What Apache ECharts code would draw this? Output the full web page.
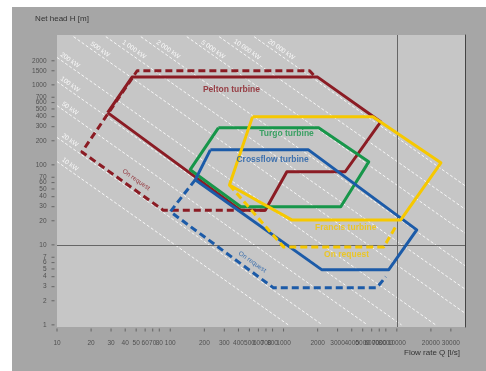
<!DOCTYPE html>
<html>
<head>
<meta charset="utf-8">
<script src="https://cdn.jsdelivr.net/npm/echarts@6/dist/echarts.min.js"></script>
<style>
html,body{margin:0;padding:0;background:#fff}
#chart{width:486px;height:371px}
</style>
</head>
<body>
<div id="chart"></div>
<script>
// tick labels (log axes)
var xTicks = [10, 20, 30, 40, 50, 60, 70, 80, 100, 200, 300, 400, 500, 600, 700, 800, 1000, 2000, 3000, 4000, 5000, 6000, 7000, 8000, 10000, 20000, 30000];
var yTicks = [1, 2, 3, 4, 5, 6, 7, 10, 20, 30, 40, 50, 60, 70, 100, 200, 300, 400, 500, 600, 700, 1000, 1500, 2000];

// application ranges [Q l/s, H m]
var pelton = [[28, 450], [46, 1250], [2000, 1250], [7200, 345], [3500, 82], [1070, 82], [690, 27], [420, 27], [28, 450]];
var peltonOnRequest = [[1840, 1330], [1700, 1500], [51, 1500], [16.6, 145], [87, 27], [690, 27]];
var turgo = [[266, 290], [2040, 290], [5650, 109], [3200, 30], [420, 30], [150, 87], [266, 290]];
var crossflow = [[226, 154], [1660, 154], [15000, 15.4], [8500, 4.9], [2170, 4.9], [166, 65], [226, 154]];
var crossflowOnRequest = [[166, 65], [100, 26], [816, 2.9], [6650, 2.9], [8000, 4]];
var francis = [[532, 398], [6140, 398], [24500, 106], [10840, 20.5], [1180, 20.5], [333, 56], [532, 398]];
var francisOnRequest = [[333, 56], [1000, 9.4], [7670, 9.4], [10000, 17.8]];

// constant power lines: name, start, end
var powerLines = [
  ['10 kW', [10, 110], [1100, 1]],
  ['20 kW', [10, 220], [2200, 1]],
  ['50 kW', [10, 550], [5500, 1]],
  ['100 kW', [10, 1100], [11000, 1]],
  ['200 kW', [10, 2200], [22000, 1]],
  ['500 kW', [14, 4000], [40000, 1.4]],
  ['1 000 kW', [27, 4000], [40000, 2.8]],
  ['2 000 kW', [55, 4000], [40000, 5.5]],
  ['5 000 kW', [140, 4000], [40000, 14]],
  ['10 000 kW', [270, 4000], [40000, 28]],
  ['20 000 kW', [550, 4000], [40000, 55]]
];
var powerLabelPos = [[12.5, 88], [12.5, 176], [12.5, 440], [12.5, 880], [12.5, 1760], [23, 2400], [46, 2400], [92, 2400], [229, 2400], [458, 2400], [917, 2400]];

var turbineLabels = [
  ['Pelton turbine', 347, 866, '#8b1c24', 0],
  ['Turgo turbine', 1063, 244, '#17964a', 0],
  ['Crossflow turbine', 800, 115, '#1c5ba8', 0],
  ['Francis turbine', 3540, 16.3, '#f3c500', 0],
  ['On request', 3600, 7.5, '#f3c500', 0],
  ['On request', 50, 65, '#8b1c24', -35],
  ['On request', 530, 6.1, '#1c5ba8', -35]
];

var RED = '#8b1c24', GREEN = '#17964a', BLUE = '#1c5ba8', YELLOW = '#f6c800';
var FONT = 'Liberation Sans Narrow, Liberation Sans, sans-serif';

var chart = echarts.init(document.getElementById('chart'));

function area(data, color, dashed) {
  return {
    type: 'line', data: data, showSymbol: false, silent: true, z: 5,
    lineStyle: {color: color, width: 3, type: dashed ? [7, 4] : 'solid', join: 'round'}
  };
}

var series = [];
powerLines.forEach(function (p) {
  series.push({
    type: 'line', data: [p[1], p[2]], showSymbol: false, silent: true, z: 2,
    lineStyle: {color: '#ffffff', width: 1, type: [3, 2], opacity: 0.85}
  });
});
series.push({
  type: 'scatter', symbolSize: 0, silent: true, z: 3,
  data: powerLabelPos.map(function (d, i) { return {value: d, name: powerLines[i][0]}; }),
  label: {show: true, position: 'top', distance: 2, rotate: -35, formatter: '{b}',
    color: '#ffffff', fontSize: 6.5, fontFamily: FONT, opacity: 0.9}
});
series.push(area(pelton, RED, false));
series.push(area(peltonOnRequest, RED, true));
series.push(area(turgo, GREEN, false));
series.push(area(crossflow, BLUE, false));
series.push(area(crossflowOnRequest, BLUE, true));
series.push(area(francis, YELLOW, false));
series.push(area(francisOnRequest, YELLOW, true));

// reference lines at H = 10 m and Q = 10 000 l/s
series.push({
  type: 'line', data: [], silent: true,
  markLine: {symbol: 'none', silent: true, label: {show: false},
    lineStyle: {color: '#666', width: 1, type: 'solid'},
    data: [{yAxis: 10}, {xAxis: 10000}]}
});

series.push({
  type: 'scatter', symbolSize: 0, silent: true, z: 10,
  data: turbineLabels.map(function (t) {
    return {value: [t[1], t[2]], name: t[0],
      label: {color: t[3], rotate: t[4], fontSize: t[4] ? 6.5 : 8.5, fontWeight: t[4] ? 'normal' : 'bold'}};
  }),
  label: {show: true, position: 'inside', formatter: '{b}', fontFamily: FONT}
});

// axis tick labels
series.push({
  type: 'scatter', symbol: 'rect', symbolSize: [3, 1], symbolOffset: [-4, 0], silent: true, clip: false,
  itemStyle: {color: '#555'},
  data: yTicks.map(function (v) { return [10, v]; }),
  label: {show: true, position: 'left', distance: 5, color: '#3a3a3a', fontSize: 6.5, fontFamily: FONT,
    formatter: function (p) { return p.value[1]; }}
});
series.push({
  type: 'scatter', symbol: 'rect', symbolSize: [1, 3], symbolOffset: [0, 3], silent: true, clip: false,
  itemStyle: {color: '#555'},
  data: xTicks.map(function (v) { return [v, 0.94]; }),
  label: {show: true, position: 'bottom', distance: 8, color: '#3a3a3a', fontSize: 6.5, fontFamily: FONT,
    formatter: function (p) { return p.value[0]; }}
});

var option = {
  animation: false,
  backgroundColor: '#ffffff',
  graphic: [{type: 'rect', left: 12, top: 7, shape: {width: 474, height: 364}, style: {fill: '#a6a6a6'}, z: -10}],
  grid: {left: 57, right: 21, top: 35, bottom: 44, show: true, backgroundColor: '#c6c6c6', borderWidth: 0},
  xAxis: {
    type: 'log', min: 10, max: 40000,
    name: 'Flow rate Q [l/s]', nameLocation: 'end', nameGap: -5,
    nameTextStyle: {color: '#333', fontSize: 8, fontFamily: FONT, align: 'right', verticalAlign: 'top', padding: [22, 0, 0, 0]},
    axisLine: {show: false}, axisTick: {show: false}, axisLabel: {show: false}, splitLine: {show: false}
  },
  yAxis: [{
    type: 'log', min: 0.94, max: 4200,
    name: 'Net head H [m]', nameLocation: 'end', nameGap: 12,
    nameTextStyle: {color: '#333', fontSize: 8, fontFamily: FONT, padding: [0, 0, 0, 10]},
    axisLine: {show: false}, axisTick: {show: false}, axisLabel: {show: false}, splitLine: {show: false}
  }, {
    type: 'log', min: 0.94, max: 4200, position: 'right',
    axisLine: {show: true, lineStyle: {color: '#444', width: 1}},
    axisTick: {show: false}, axisLabel: {show: false}, splitLine: {show: false}
  }],
  series: series
};

chart.setOption(option);
</script>
</body>
</html>
